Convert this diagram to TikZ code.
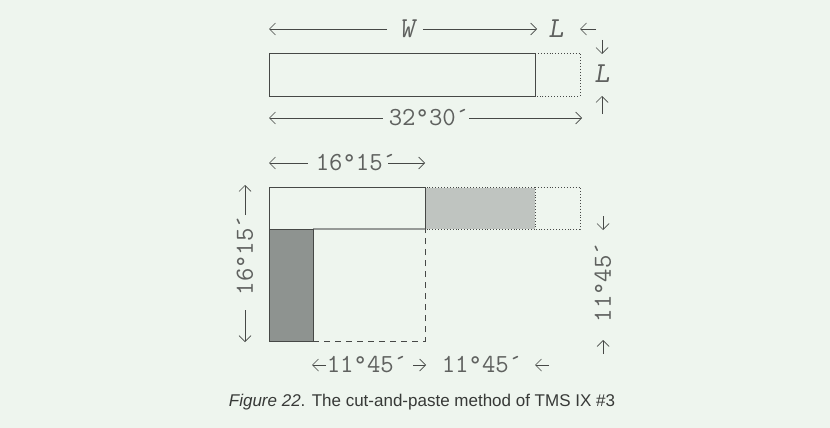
\documentclass[tikz,border=0pt]{standalone}
\usepackage{fontspec}
\usetikzlibrary{arrows.meta}
\newfontfamily\capfont{Liberation Sans}
\definecolor{tmsbg}{RGB}{238,245,238}
\definecolor{tmsline}{RGB}{70,72,70}
\definecolor{tmstext}{RGB}{95,97,95}
\definecolor{tmsdark}{RGB}{142,147,144}
\definecolor{tmslight}{RGB}{191,196,192}
\definecolor{tmsedge}{RGB}{150,154,151}
\definecolor{tmscap}{RGB}{55,57,55}

\tikzset{
  dimtext/.style={font=\fontsize{26}{26}\selectfont\ttfamily, text=tmstext, inner sep=0pt},
  lettext/.style={font=\fontsize{29}{29}\selectfont\ttfamily\slshape, text=tmstext, inner sep=0pt},
  dimarrow/.style={draw=tmsline, line width=0.7pt, -{Straight Barb[length=6pt,width=12pt]}},
  part/.style={draw=tmsline, line width=0.8pt},
  cutline/.style={draw=tmsline, line width=0.8pt, dash pattern=on 6pt off 5pt},
  ghost/.style={draw=tmsline, line width=0.9pt, dotted},
}

\begin{document}
\begin{tikzpicture}[x=1pt, y=-1pt]
% Frame
\fill[tmsbg] (0,0) rectangle (830,428);
\useasboundingbox (0,0) rectangle (830,428);

% Long strip, W by L
\draw[part] (269,53) rectangle (535,96);
\draw[ghost] (535,53) -- (580,53) -- (580,96) -- (535,96);

% W and L across the top
\coordinate (wl) at (269,29);
\coordinate (wr) at (537,29);
\node[lettext] (w) at (407,29) {W};
\node[lettext] (lt) at (556,29) {L};
\coordinate (ltip) at (580,29);
\coordinate (ltail) at (596,29);
\draw[dimarrow] (w.west) ++(-12,0) -- (wl);
\draw[dimarrow] (w.east) ++(8,0) -- (wr);
\draw[dimarrow] (ltail) -- (ltip);

% L at the side
\node[lettext] (ls) at (602,74) {L};
\coordinate (lstop) at (602,40);
\coordinate (lsbot) at (602,114);
\draw[dimarrow] (lstop) -- (602,54);
\draw[dimarrow] (lsbot) -- (602,96);

% Full length
\node[dimtext] (full) at (429,118) {32°30´};
\coordinate (fl) at (269,118);
\coordinate (fr) at (582,118);
\draw[dimarrow] (full.west) ++(-6,0) -- (fl);
\draw[dimarrow] (full.east) ++(0,0) -- (fr);

% Square with the strip cut and pasted
\fill[tmsdark] (269,229) rectangle (313,341);
\fill[tmslight] (426,188) rectangle (535,229);
\draw[tmsedge, line width=1.5pt] (313,229) -- (425,229);
\draw[part] (269,341) -- (269,187) -- (425,187) -- (425,229);
\draw[part] (269,229) rectangle (313,341);
\draw[cutline] (313,341) -- (425,341) -- (425,229);
\draw[ghost] (425,187) rectangle (535,229);
\draw[ghost] (535,187) -- (580,187) -- (580,229) -- (535,229);

% Side of the square, top
\node[dimtext] (half) at (356,163) {16°15´};
\coordinate (hl) at (269,163);
\coordinate (hr) at (425,163);
\draw[dimarrow] (half.west) ++(-8,0) -- (hl);
\draw[dimarrow] (half.east) ++(-8,0) -- (hr);

% Side of the square, left
\node[dimtext, rotate=90] (side) at (245,255) {16°15´};
\coordinate (st) at (245,185);
\coordinate (sb) at (245,342);
\draw[dimarrow] (245,215) -- (st);
\draw[dimarrow] (245,310) -- (sb);

% Rest of the square, right
\node[dimtext, rotate=90] (rest) at (603,282) {11°45´};
\draw[dimarrow] (603,216) -- (603,230);
\draw[dimarrow] (603,354) -- (603,340);

% Rest of the square, bottom
\node[dimtext] (restb) at (367,365) {11°45´};
\draw[dimarrow] (326,365) -- (312,365);
\draw[dimarrow] (413,365) -- (426,365);
\node[dimtext] (restc) at (482,365) {11°45´};
\draw[dimarrow] (549,365) -- (535,365);

% Caption
\node[font=\fontsize{17}{17}\selectfont\capfont, text=tmscap] (cap) at (422,402)
  {\textit{Figure 22}. The cut-and-paste method of TMS IX \#3};
\end{tikzpicture}
\end{document}
